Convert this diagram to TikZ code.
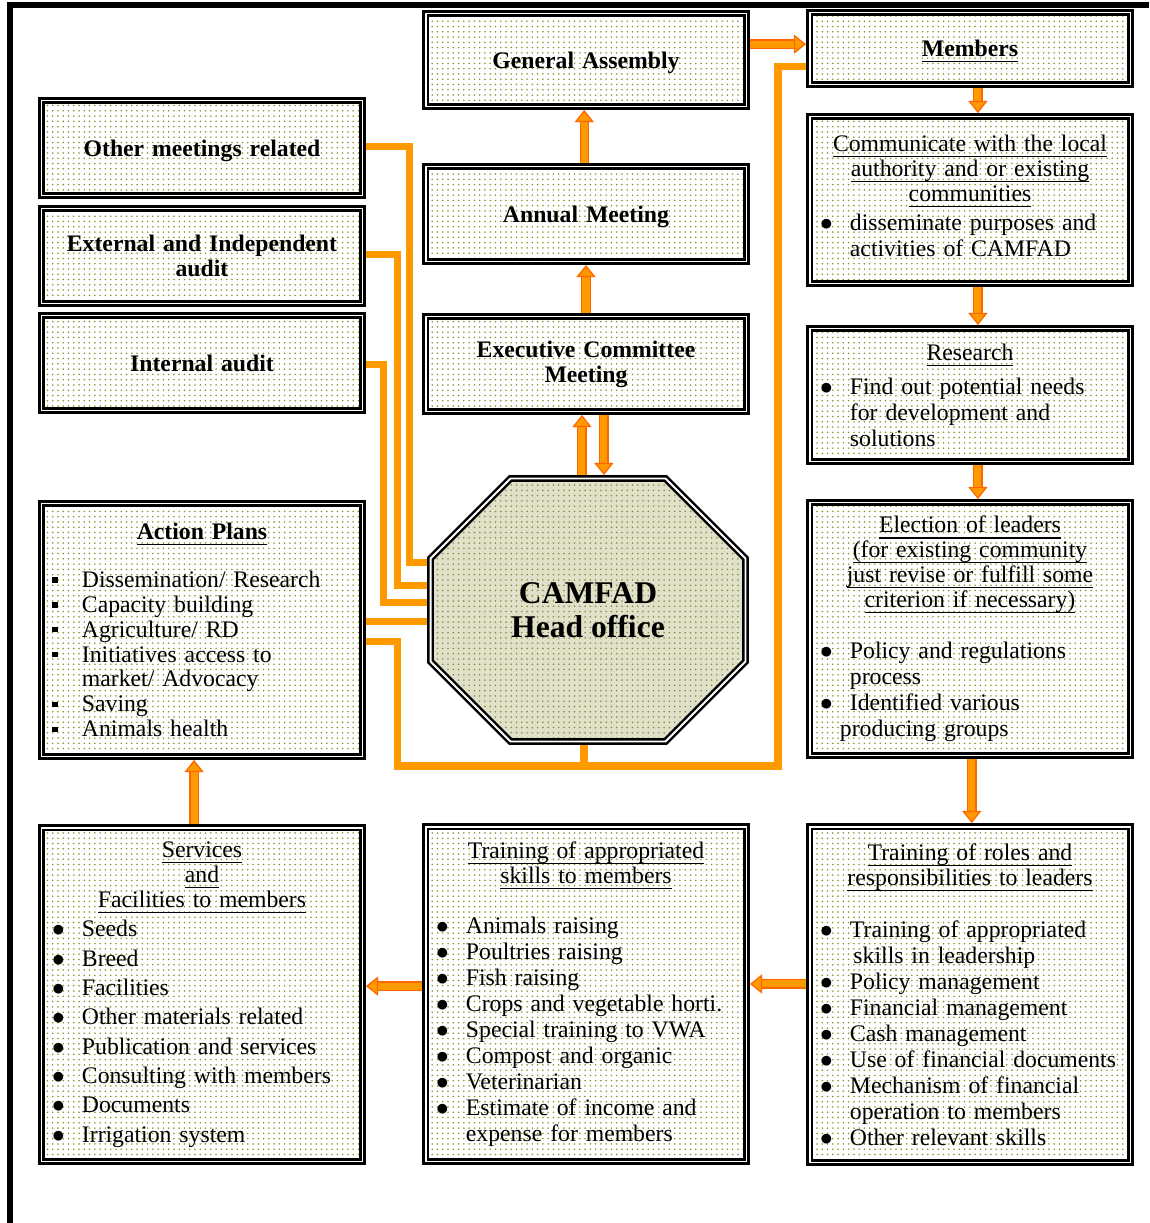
\documentclass[tikz,border=0pt]{standalone}
\usepackage{fontspec}
\setmainfont{Liberation Serif}
\usetikzlibrary{arrows.meta,patterns,shapes.misc}

\definecolor{linkor}{HTML}{FF9900}
\definecolor{arrline}{HTML}{FF6600}
\definecolor{dotol}{RGB}{140,145,40}
\definecolor{octfill}{RGB}{224,225,200}
\definecolor{octdot}{RGB}{135,138,70}

\newlength\itmind \setlength\itmind{21.3pt}
\newcommand\undl[1]{\setbox0\hbox{#1}\leavevmode\rlap{\rule[-3.2pt]{\wd0}{0.6pt}}\box0}
\newcommand\itm{\par\noindent\hangindent=\itmind\hangafter=1%
  \makebox[\itmind][l]{\hspace*{4.3pt}$\bullet$}}
\newcommand\sqitm{\par\noindent\hangindent=\itmind\hangafter=1%
  \makebox[\itmind][l]{\hspace*{4.5pt}\rule[2.6pt]{3.2pt}{3.2pt}}}
\newcommand\ttl[1]{{\centering\setlength\baselineskip{14.2pt}#1\par}}
\newcommand\gap[1]{\par\kern#1\relax}

\begin{document}
\begin{tikzpicture}[x=0.02cm,y=-0.02cm,
  panel/.style={draw,line width=1.4pt,double=white,double distance=1.1pt,
    pattern=dots,pattern color=dotol,outer sep=1.95pt,inner sep=0pt,
    minimum width=6.42cm,text width=6.3cm,align=left,
    font=\fontsize{13.5}{14.8}\selectfont},
  headpanel/.style={panel,align=center,font=\fontsize{13.5}{14.2}\selectfont\bfseries},
  oneline/.style={headpanel,text depth=0pt},
  link/.style={draw=linkor,line width=4pt},
  arr/.style={draw=linkor,line width=4pt,
    -{Triangle[length=7pt,width=11pt,line width=0.7pt,color=arrline,fill=linkor]},
    preaction={draw=arrline,line width=5.4pt,arrows=-,shorten >=5pt}}]
  \useasboundingbox (0,0) rectangle (1149,1223);
  % frame
  \draw[line width=3.4pt] (1149,5) -- (10,5) -- (10,1223);

  % left column
  \node[oneline,minimum height=1.9cm] (other) at (202,148) {Other meetings related};
  \node[headpanel,minimum height=1.9cm] (extaudit) at (202,256) {External and Independent\\audit};
  \node[oneline,minimum height=1.9cm] (intaudit) at (202,363) {Internal audit};
  \node[panel,minimum height=5.06cm,font=\fontsize{13.5}{14.2}\selectfont] (action) at (202,630)
    {\ttl{\textbf{\undl{Action Plans}}}\gap{13pt}\sqitm Dissemination/ Research\sqitm Capacity building
     \sqitm Agriculture/ RD\sqitm Initiatives access to\newline market/ Advocacy\sqitm Saving\sqitm Animals health\par};
  \node[panel,minimum height=6.68cm] (services) at (202,994.5)
    {\ttl{\undl{Services}\\ \undl{and}\\ \undl{Facilities to members}}\setlength\baselineskip{16.7pt}%
     \itm Seeds\itm Breed\itm Facilities\itm Other materials related\itm Publication and services
     \itm Consulting with members\itm Documents\itm Irrigation system\par};

  % middle column
  \node[oneline,minimum height=1.86cm] (ga) at (586,60) {General Assembly};
  \node[oneline,minimum height=1.9cm] (annual) at (586,214) {Annual Meeting};
  \node[headpanel,minimum height=1.9cm] (exec) at (586,364) {Executive Committee\\Meeting};
  \node[chamfered rectangle,chamfered rectangle xsep=0.93cm,chamfered rectangle ysep=0.93cm,
    draw,line width=1.4pt,double=white,double distance=1.1pt,outer sep=1.95pt,
    preaction={fill=octfill},pattern=dots,pattern color=octdot,
    minimum width=6.3cm,minimum height=5.26cm,align=center,
    font=\fontsize{18}{19.3}\selectfont\bfseries] (camfad) at (588,610) {CAMFAD\\Head office};
  \node[panel,minimum height=6.7cm] (skills) at (586,994)
    {\ttl{\undl{Training of appropriated}\\ \undl{skills to members}}\gap{13.6pt}%
     \itm Animals raising\itm Poultries raising\itm Fish raising\itm Crops and vegetable horti.
     \itm Special training to VWA\itm Compost and organic\itm Veterinarian
     \itm Estimate of income and\newline expense for members\par};

  % right column
  \node[oneline,minimum height=1.44cm] (members) at (970,48.5) {\undl{Members}};
  \node[panel,minimum height=3.34cm] (comm) at (970,200)
    {\ttl{\undl{Communicate with the local}\\ \undl{authority and or existing}\\ \undl{communities}}\gap{1.7pt}%
     \itm disseminate purposes and\newline activities of CAMFAD\gap{5pt}};
  \node[panel,minimum height=2.66cm] (research) at (970,395)
    {\ttl{\undl{Research}}\gap{4.5pt}\itm Find out potential needs\newline for development and\newline solutions\par};
  \node[panel,minimum height=5.06cm] (election) at (970,629)
    {\ttl{\undl{Election of leaders}\\ \undl{(for existing community}\\ \undl{just revise or fulfill some}\\
     \undl{criterion if necessary)}}\gap{14.2pt}%
     \itm Policy and regulations\newline process\itm Identified various\newline\hspace*{-5.7pt}producing groups\par};
  \node[panel,minimum height=6.72cm] (roles) at (970,994.5)
    {\ttl{\undl{Training of roles and}\\ \undl{responsibilities to leaders}}\gap{14.8pt}%
     \itm Training of appropriated\newline\hspace*{2pt}skills in leadership\itm Policy management
     \itm Financial management\itm Cash management\itm Use of financial documents
     \itm Mechanism of financial\newline operation to members\itm Other relevant skills\par};

  % arrows
  \draw[arr] ([xshift=-1pt]annual.north) -- ([xshift=-1pt]ga.south);
  \draw[arr] (exec.north) -- (annual.south);
  \coordinate (upx) at ([xshift=-2.3pt]exec.south);
  \coordinate (dnx) at ([xshift=10.2pt]exec.south);
  \draw[arr] (upx |- camfad.north) -- (upx);
  \draw[arr] (dnx) -- (dnx |- camfad.north);
  \draw[arr] ([yshift=9pt]ga.east) -- ([yshift=9pt]ga.east -| members.west);
  \draw[arr] ([xshift=4.5pt]members.south) -- ([xshift=4.5pt]comm.north);
  \draw[arr] ([xshift=4.5pt]comm.south) -- ([xshift=4.5pt]research.north);
  \draw[arr] ([xshift=4.5pt]research.south) -- ([xshift=4.5pt]election.north);
  \draw[arr] ([xshift=1pt]election.south) -- ([xshift=1pt]roles.north);
  \draw[arr] ([yshift=6pt]roles.west) -- ([yshift=6pt]roles.west -| skills.east);
  \draw[arr] ([yshift=4.5pt]skills.west) -- ([yshift=4.5pt]skills.west -| services.east);
  \draw[arr] ([xshift=-4.5pt]services.north) -- ([xshift=-4.5pt]action.south);

  % links to head office
  \draw[link] ([yshift=1pt]other.east) -- ++(44,0) |- ([yshift=27.2pt]camfad.west);
  \draw[link] ([yshift=1pt]extaudit.east) -- ++(32,0) |- ([yshift=14.2pt]camfad.west);
  \draw[link] ([yshift=-0.6pt]intaudit.east) -- ++(18,0) |- ([yshift=4pt]camfad.west);
  \draw[link] ([yshift=-6.8pt]camfad.west) -- ([yshift=-6.8pt]camfad.west -| action.east);
  \coordinate (jn) at (584,766);
  \draw[link] ([yshift=-6.8pt]action.east) -- ++(32,0) |- (778,766) |- ([yshift=-10pt]members.west);
  \draw[link] (camfad.south -| jn) -- (jn);
\end{tikzpicture}
\end{document}
